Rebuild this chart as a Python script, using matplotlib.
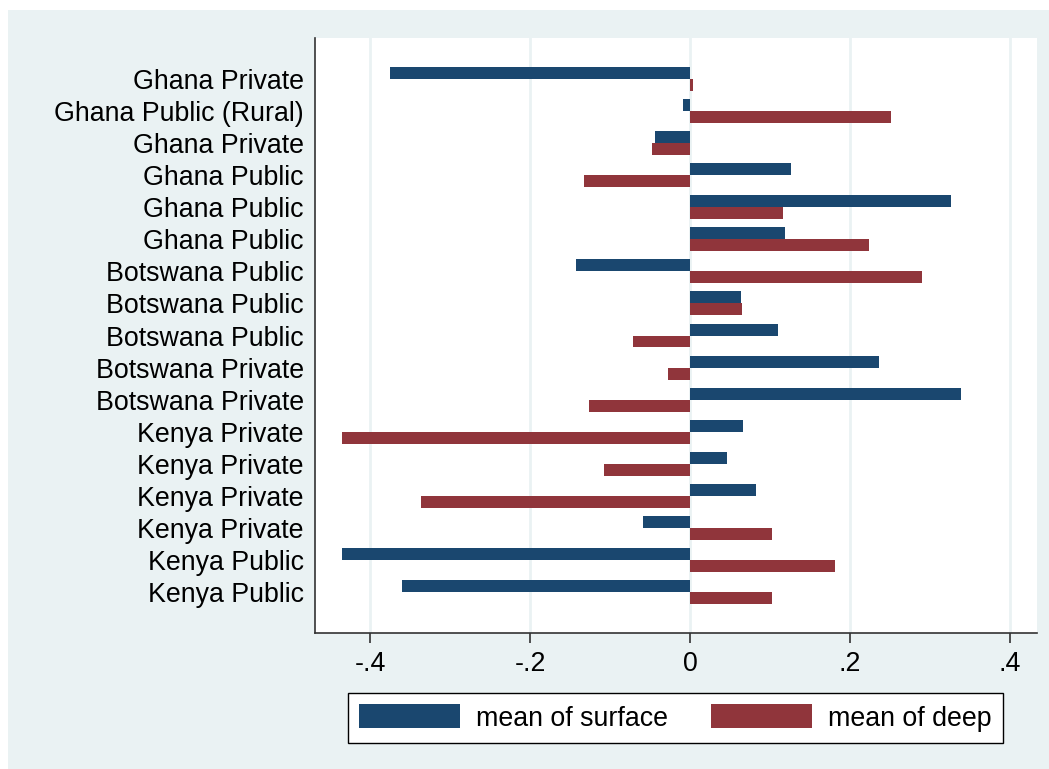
import numpy as np
import matplotlib.pyplot as plt
from matplotlib.patches import Rectangle

plt.rcParams['font.family'] = ['Liberation Sans', 'DejaVu Sans']

labels = ["Ghana Private", "Ghana Public (Rural)", "Ghana Private", "Ghana Public",
          "Ghana Public", "Ghana Public", "Botswana Public", "Botswana Public",
          "Botswana Public", "Botswana Private", "Botswana Private", "Kenya Private",
          "Kenya Private", "Kenya Private", "Kenya Private", "Kenya Public", "Kenya Public"]
surface = [-0.376, -0.009, -0.044, 0.127, 0.327, 0.119, -0.143, 0.064,
           0.110, 0.236, 0.339, 0.066, 0.046, 0.083, -0.059, -0.435, -0.360]
deep = [0.004, 0.251, -0.048, -0.133, 0.117, 0.224, 0.291, 0.065,
        -0.071, -0.028, -0.127, -0.436, -0.107, -0.337, 0.103, 0.181, 0.103]
xticks = [-0.4, -0.2, 0, 0.2, 0.4]
xticklabels = ["-.4", "-.2", "0", ".2", ".4"]

c_surf = "#1a476f"
c_deep = "#90353b"
bg = "#eaf2f3"
fs = 19.3

fig = plt.figure(figsize=(10.49, 7.69), dpi=100)
fig.patch.set_facecolor("white")
# stata style outer region
fig.patches.append(Rectangle((8/1049, 0), 1, 759/769, transform=fig.transFigure,
                             facecolor=bg, edgecolor="none", zorder=-10))

ax = fig.add_axes([315/1049, 1 - 633/769, (1037 - 315)/1049, (633 - 38)/769])
ax.set_facecolor("white")

y = np.arange(len(labels))
h = 0.374
ax.barh(y - h/2, surface, height=h, color=c_surf, label="mean of surface", zorder=3)
ax.barh(y + h/2, deep, height=h, color=c_deep, label="mean of deep", zorder=3)

ax.set_ylim(17.279, -1.279)
ax.set_xlim(-0.4693, 0.4343)
ax.set_yticks(y)
ax.set_yticklabels(labels, fontsize=fs)
ax.set_xticks(xticks)
ax.set_xticklabels(xticklabels, fontsize=fs)
ax.tick_params(axis="y", length=0, pad=8)
ax.tick_params(axis="x", length=7.2, width=1.2, color="#333333", pad=6)
ax.grid(axis="x", color=bg, linewidth=2, zorder=0)
ax.set_axisbelow(True)
for s in ["top", "right"]:
    ax.spines[s].set_visible(False)
for s in ["left", "bottom"]:
    ax.spines[s].set_color("#333333")
    ax.spines[s].set_linewidth(1.2)

leg = fig.legend(loc="center", bbox_to_anchor=(675.5/1049, 1 - 718/769), ncol=2,
                 fontsize=fs, frameon=True, fancybox=False, handlelength=3.77,
                 handleheight=1.0, handletextpad=0.6, columnspacing=1.6,
                 borderpad=0.42, borderaxespad=0)
leg.get_frame().set_edgecolor("black")
leg.get_frame().set_linewidth(1.0)
leg.get_frame().set_facecolor("white")
leg.get_frame().set_alpha(1)

fig.savefig("out.png", dpi=100)
